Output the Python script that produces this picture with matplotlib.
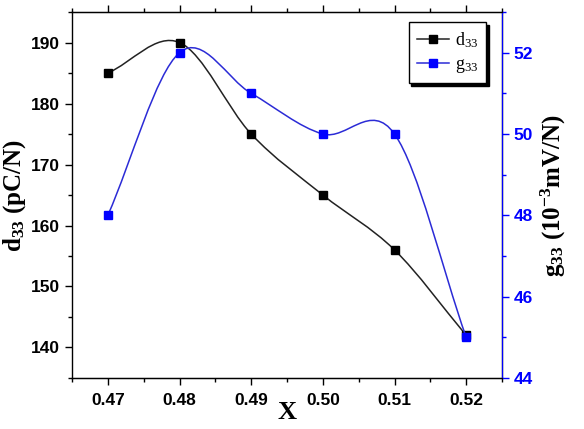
import numpy as np
import matplotlib
matplotlib.use("Agg")
import matplotlib.pyplot as plt
from matplotlib.path import Path
from matplotlib.patches import PathPatch
from matplotlib.lines import Line2D
from matplotlib.ticker import MultipleLocator

x = [0.47, 0.48, 0.49, 0.50, 0.51, 0.52]
d33 = [185, 190, 175, 165, 156, 142]
g33 = [48, 52, 51, 50, 50, 45]


def smooth_path(xs, ys):
    # Catmull-Rom tangents turned into cubic bezier segments
    xs = np.asarray(xs, float)
    ys = np.asarray(ys, float)
    n = len(xs)
    m = np.zeros(n)
    m[0] = (ys[1] - ys[0]) / (xs[1] - xs[0])
    m[-1] = (ys[-1] - ys[-2]) / (xs[-1] - xs[-2])
    for i in range(1, n - 1):
        m[i] = (ys[i + 1] - ys[i - 1]) / (xs[i + 1] - xs[i - 1])
    verts = [(xs[0], ys[0])]
    codes = [Path.MOVETO]
    for i in range(n - 1):
        h = xs[i + 1] - xs[i]
        verts += [(xs[i] + h / 3, ys[i] + m[i] * h / 3),
                  (xs[i + 1] - h / 3, ys[i + 1] - m[i + 1] * h / 3),
                  (xs[i + 1], ys[i + 1])]
        codes += [Path.CURVE4] * 3
    return Path(verts, codes)


plt.rcParams['font.family'] = ['Liberation Sans', 'DejaVu Sans']
plt.rcParams['mathtext.default'] = 'regular'

fig = plt.figure(figsize=(5.84, 4.29), dpi=100)
ax = fig.add_axes([0.1233, 0.1189, 0.7363, 0.8531])
ax2 = ax.twinx()

black_line = '#222222'
blue_line = '#2b2bd6'
ax.add_patch(PathPatch(smooth_path(x, d33), fill=False, color=black_line, lw=1.1))
ax.plot(x, d33, ls='none', marker='s', ms=5.5, color='black')
ax2.add_patch(PathPatch(smooth_path(x, g33), fill=False, color=blue_line, lw=1.1))
ax2.plot(x, g33, ls='none', marker='s', ms=5.5, color='#0000ff')

ax.set_xlim(0.465, 0.525)
ax.set_ylim(135, 195)
ax2.set_ylim(44, 53)
ax.set_xticks(x)
ax.set_xticklabels(['%.2f' % v for v in x])
ax.xaxis.set_minor_locator(MultipleLocator(0.005))
ax.yaxis.set_major_locator(MultipleLocator(10))
ax.yaxis.set_minor_locator(MultipleLocator(5))
ax2.yaxis.set_major_locator(MultipleLocator(2))
ax2.yaxis.set_minor_locator(MultipleLocator(1))

for a in (ax, ax2):
    a.tick_params(which='major', length=5, width=1, labelsize=12.5)
    a.tick_params(which='minor', length=3, width=1)
ax.tick_params(axis='x', which='both', top=True, pad=6)
for lab in ax.get_xticklabels() + ax.get_yticklabels():
    lab.set_fontweight('bold')
ax2.tick_params(axis='y', which='both', colors='#0000ff')
for lab in ax2.get_yticklabels():
    lab.set_fontweight('bold')
ax2.spines['right'].set_color('#0000ff')
ax2.spines['left'].set_visible(False)
for s in ax.spines.values():
    s.set_linewidth(1)

serif = ['Liberation Serif', 'DejaVu Serif']
ax.set_xlabel('X', family=serif, fontsize=19, fontweight='bold', labelpad=-5)
ax.set_ylabel('d$_{33}$ (pC/N)', family=serif, fontsize=18, fontweight='bold', labelpad=2)
ax2.set_ylabel('g$_{33}$ (10$^{-3}$mV/N)', family=serif, fontsize=18,
               fontweight='bold', color='black', labelpad=4)

hd = Line2D([], [], color=black_line, lw=1.1, marker='s', ms=5.5, mfc='black', mec='black')
hg = Line2D([], [], color=blue_line, lw=1.1, marker='s', ms=5.5, mfc='#0000ff', mec='#0000ff')
leg = ax2.legend([hd, hg], ['d$_{33}$', 'g$_{33}$'], loc='upper right',
                 bbox_to_anchor=(0.963, 0.973), borderaxespad=0, fancybox=False,
                 shadow={'color': 'black', 'alpha': 1},
                 edgecolor='black', framealpha=1, prop={'family': serif, 'size': 13},
                 handlelength=1.8, borderpad=0.45, labelspacing=0.35, handletextpad=0.3)
leg.get_frame().set_linewidth(1)

fig.savefig('out.png', dpi=100)
